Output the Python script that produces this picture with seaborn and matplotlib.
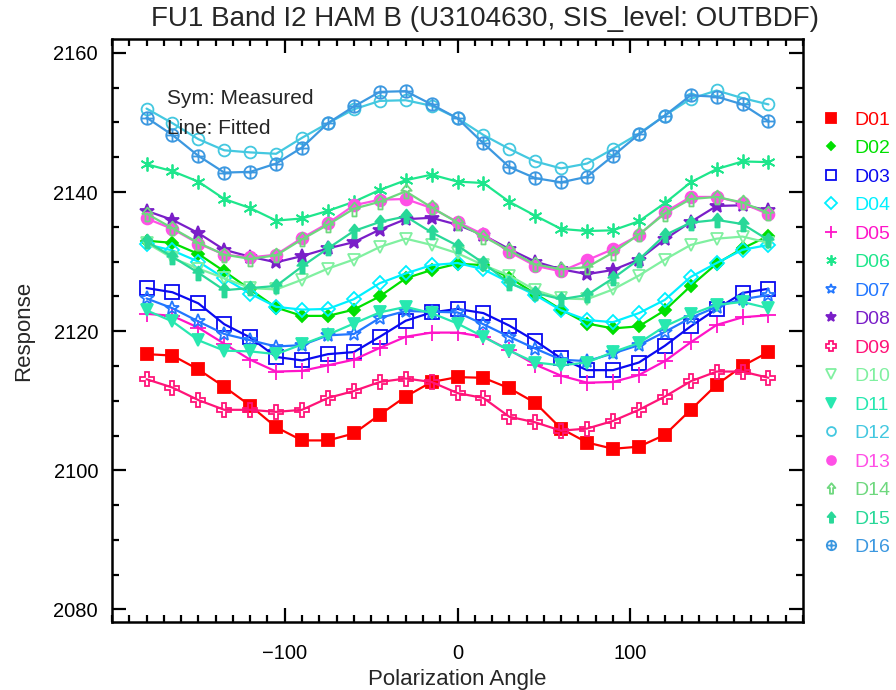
import numpy as np
import pandas as pd
import matplotlib
matplotlib.use("Agg")
import matplotlib.pyplot as plt
from matplotlib.lines import Line2D
from matplotlib.path import Path
import seaborn as sns

angles = list(range(-180, 181, 15))

D01 = [2116.7, 2116.5, 2114.5, 2112.0, 2109.3, 2106.2, 2104.3, 2104.3, 2105.3, 2108.0, 2110.6, 2112.7, 2113.4,
       2113.3, 2111.8, 2109.7, 2106.0, 2104.0, 2103.1, 2103.4, 2105.1, 2108.7, 2112.3, 2115.0, 2117.0]
D02 = [2133.0, 2132.7, 2131.1, 2128.6, 2126.0, 2123.4, 2122.2, 2122.2, 2123.1, 2125.0, 2127.6, 2128.8, 2129.7,
       2129.5, 2127.7, 2125.4, 2123.1, 2121.1, 2120.4, 2120.7, 2123.0, 2126.5, 2129.7, 2131.9, 2133.7]
D03 = [2126.2, 2125.6, 2124.0, 2121.0, 2119.1, 2116.3, 2115.8, 2116.7, 2117.0, 2119.2, 2121.5, 2122.7, 2123.2,
       2122.6, 2120.8, 2118.6, 2116.1, 2114.4, 2114.4, 2115.5, 2117.9, 2120.7, 2123.2, 2125.5, 2126.1]
D04 = [2132.5, 2131.6, 2130.0, 2127.6, 2125.4, 2123.5, 2123.1, 2123.2, 2124.6, 2126.9, 2128.3, 2129.5, 2129.8,
       2128.9, 2127.0, 2125.2, 2123.0, 2121.6, 2121.3, 2122.6, 2124.5, 2127.8, 2129.8, 2131.7, 2132.4]
D05 = [2122.5, 2122.2, 2120.5, 2118.2, 2115.9, 2114.2, 2114.3, 2115.1, 2115.9, 2117.6, 2119.2, 2119.8, 2119.8,
       2119.2, 2117.3, 2115.2, 2113.6, 2112.6, 2112.7, 2113.7, 2115.7, 2118.4, 2120.9, 2122.0, 2122.3]
D06 = [2144.0, 2143.0, 2141.5, 2139.0, 2137.7, 2135.9, 2136.2, 2137.3, 2138.6, 2140.3, 2141.7, 2142.5, 2141.5,
       2141.3, 2138.6, 2136.6, 2134.7, 2134.4, 2134.5, 2135.8, 2138.4, 2141.4, 2143.3, 2144.4, 2144.3]
D07 = [2124.7, 2123.3, 2121.4, 2119.6, 2118.7, 2117.8, 2118.0, 2119.4, 2119.6, 2121.9, 2122.9, 2122.8, 2122.7,
       2121.0, 2119.2, 2117.5, 2115.9, 2115.7, 2116.8, 2118.0, 2119.9, 2121.9, 2123.5, 2124.6, 2125.2]
D08 = [2137.3, 2136.0, 2134.1, 2131.7, 2130.7, 2129.9, 2130.8, 2131.9, 2132.8, 2134.6, 2136.1, 2136.3, 2135.3,
       2133.8, 2131.8, 2130.0, 2128.9, 2128.2, 2128.8, 2130.3, 2133.2, 2135.7, 2138.0, 2138.1, 2137.4]
D09 = [2113.1, 2111.9, 2110.1, 2108.7, 2108.7, 2108.4, 2108.7, 2110.4, 2111.4, 2112.7, 2113.2, 2112.7, 2111.1,
       2110.4, 2107.7, 2106.9, 2105.7, 2106.0, 2107.1, 2108.7, 2110.6, 2112.8, 2114.2, 2114.2, 2113.3]
D10 = [2132.7, 2130.5, 2129.0, 2127.6, 2126.2, 2126.0, 2127.4, 2129.0, 2130.3, 2132.1, 2133.3, 2132.4, 2131.2,
       2129.5, 2128.0, 2125.9, 2124.7, 2124.6, 2126.0, 2128.0, 2130.3, 2132.4, 2133.3, 2133.6, 2132.7]
D11 = [2123.0, 2121.4, 2118.7, 2117.2, 2117.1, 2116.7, 2118.1, 2119.5, 2121.1, 2122.7, 2123.5, 2122.6, 2121.1,
       2119.2, 2117.2, 2115.5, 2115.1, 2115.5, 2117.0, 2118.3, 2120.7, 2122.4, 2123.8, 2124.2, 2123.3]
D12 = [2152.0, 2149.9, 2147.6, 2146.0, 2145.7, 2145.5, 2147.8, 2149.9, 2151.9, 2153.1, 2153.2, 2152.4, 2150.6,
       2148.2, 2146.2, 2144.4, 2143.4, 2144.1, 2146.2, 2148.4, 2151.0, 2153.4, 2154.6, 2153.5, 2152.6]
D13 = [2136.2, 2134.7, 2132.6, 2131.0, 2130.6, 2131.0, 2133.4, 2135.5, 2138.1, 2138.9, 2139.0, 2137.7, 2135.7,
       2133.9, 2131.4, 2129.4, 2128.6, 2130.2, 2131.8, 2133.8, 2137.1, 2139.3, 2139.3, 2138.4, 2136.8]
D14 = [2136.9, 2134.8, 2132.7, 2131.0, 2130.4, 2130.9, 2133.2, 2135.3, 2137.6, 2138.6, 2140.1, 2137.8, 2135.6,
       2133.6, 2131.6, 2129.6, 2128.9, 2129.2, 2131.3, 2133.9, 2136.9, 2139.0, 2139.3, 2138.5, 2137.0]
D15 = [2132.9, 2130.7, 2128.4, 2125.9, 2126.2, 2126.5, 2129.3, 2131.9, 2134.4, 2135.7, 2136.5, 2134.2, 2132.3,
       2129.8, 2126.9, 2125.5, 2124.6, 2125.2, 2127.6, 2130.3, 2133.8, 2135.6, 2136.0, 2135.4, 2133.1]
D16 = [2150.7, 2148.2, 2145.2, 2142.8, 2142.9, 2144.1, 2146.4, 2149.9, 2152.3, 2154.4, 2154.5, 2152.6, 2150.6,
       2147.0, 2143.6, 2142.0, 2141.4, 2142.2, 2145.2, 2148.3, 2151.0, 2153.9, 2153.7, 2152.6, 2150.2]

labels = ["D01", "D02", "D03", "D04", "D05", "D06", "D07", "D08",
          "D09", "D10", "D11", "D12", "D13", "D14", "D15", "D16"]
series = [D01, D02, D03, D04, D05, D06, D07, D08, D09, D10, D11, D12, D13, D14, D15, D16]

title = "FU1 Band I2 HAM B (U3104630, SIS_level: OUTBDF)"

# marker paths
arrow = Path([(0, 1), (0.75, 0.1), (0.3, 0.1), (0.3, -1), (-0.3, -1), (-0.3, 0.1), (-0.75, 0.1), (0, 1)],
             [Path.MOVETO] + [Path.LINETO] * 6 + [Path.CLOSEPOLY])
oplus = Path.make_compound_path(
    Path.unit_circle(),
    Path([(-1, 0), (1, 0), (0, -1), (0, 1)], [Path.MOVETO, Path.LINETO, Path.MOVETO, Path.LINETO]))

colors = ["#ff0000", "#00e000", "#0a0af0", "#00f0ff", "#ff14c8", "#1ee68c", "#2277ff", "#7a1ec8",
          "#ff1478", "#80f0a0", "#28e8b0", "#44c8e0", "#ff50e6", "#6ed87e", "#28d898", "#3c98e0"]
# (marker, filled, size)
mstyle = [("s", True, 9), ("D", True, 6), ("s", False, 9.5), ("D", False, 7.5),
          ("+", True, 11), ((6, 2, 0), True, 10), ("*", False, 10), ("*", True, 10),
          ("P", False, 9.5), ("v", False, 9), ("v", True, 9), ("o", False, 8.5),
          ("o", True, 8.5), (arrow, False, 10), (arrow, True, 10), (oplus, False, 9)]

sns.set_theme(style="ticks")
plt.rcParams["font.family"] = ["Liberation Sans", "DejaVu Sans"]

fig = plt.figure(figsize=(8.96, 6.90), dpi=100)
ax = fig.add_axes([112 / 896, 1 - 622 / 690, (803 - 112) / 896, (622 - 39) / 690])

for lab, vals, c, (m, filled, ms) in zip(labels, series, colors, mstyle):
    df = pd.DataFrame({"angle": angles, "resp": vals})
    sns.lineplot(data=df, x="angle", y="resp", ax=ax, color=c, lw=1.6,
                 marker=m, markersize=ms, markeredgecolor=c,
                 markerfacecolor=(c if filled else "none"), markeredgewidth=1.3)

ax.set_xlim(-200, 200)
ax.set_ylim(2078.2, 2162.0)
ax.set_xticks([-100, 0, 100])
ax.set_xticks(np.arange(-200, 201, 10), minor=True)
ax.set_yticks([2080, 2100, 2120, 2140, 2160])
ax.set_yticks(np.arange(2080, 2161, 5), minor=True)
ax.set_xticklabels(["\u2212100", "0", "100"])
ax.tick_params(which="both", direction="in", top=True, right=True, width=1.6, color="black")
ax.tick_params(which="major", length=10, labelsize=14.5, colors="black")
ax.tick_params(axis="y", which="major", pad=10)
ax.tick_params(axis="x", which="major", pad=16)
ax.tick_params(which="minor", length=5)
for s in ax.spines.values():
    s.set_linewidth(1.8)
    s.set_color("black")

ax.set_xlabel("Polarization Angle", fontsize=16, labelpad=4)
ax.set_ylabel("Response", fontsize=16, labelpad=14)
fig.text(485 / 896, 1 - 19 / 690, title, fontsize=20, ha="center", va="center")

ax.text(0.08, 0.898, "Sym: Measured", transform=ax.transAxes, fontsize=15, va="center")
ax.text(0.08, 0.846, "Line: Fitted", transform=ax.transAxes, fontsize=15, va="center")

handles = []
for lab, c, (m, filled, ms) in zip(labels, colors, mstyle):
    handles.append(Line2D([], [], linestyle="none", marker=m, markersize=ms * 0.75, color=c,
                          markeredgecolor=c, markerfacecolor=(c if filled else "none"),
                          markeredgewidth=1.3, label=lab))
fig.legend(handles=handles, loc="upper left", bbox_to_anchor=(821 / 896, 1 - 111 / 690),
           frameon=False, borderpad=0, borderaxespad=0, handlelength=1.0, handletextpad=0.7,
           labelspacing=0.56, fontsize=14, labelcolor="markeredgecolor")

fig.savefig("out.png", dpi=100)
